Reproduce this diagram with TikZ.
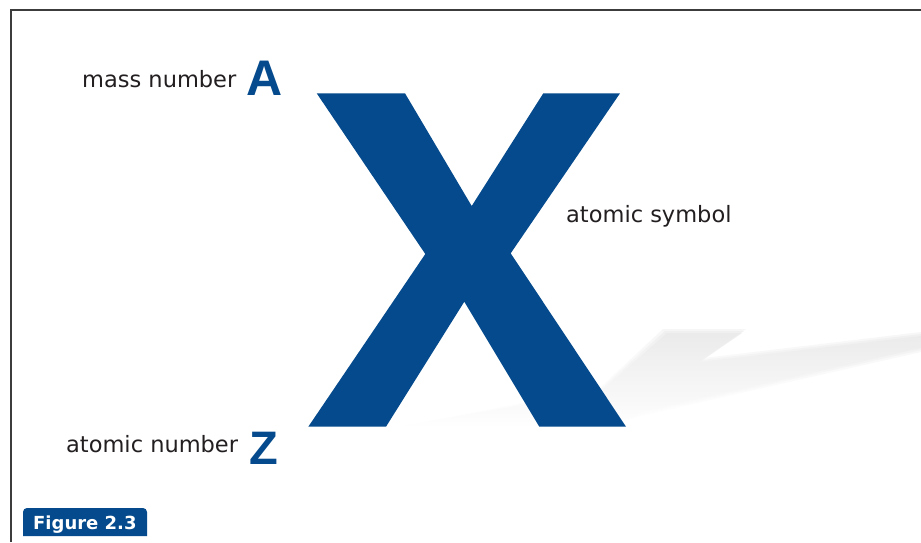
\documentclass[tikz,border=0pt]{standalone}
\usepackage{fontspec}
\setmainfont{Liberation Sans}
\newfontfamily\lblfont{DejaVu Sans}
\usetikzlibrary{fadings}
\definecolor{xblue}{RGB}{4,74,140}
\definecolor{frame}{RGB}{60,60,60}
\definecolor{txt}{RGB}{35,31,32}
\tikzset{
  lbl/.style={inner sep=0pt, text=txt, font=\lblfont\fontsize{22.5}{26}\selectfont, anchor=base west},
  big/.style={inner sep=0pt, text=xblue, font=\bfseries\fontsize{50}{56}\selectfont, anchor=base west},
}
\begin{document}
\begin{tikzpicture}[x=1pt,y=-1pt]
\useasboundingbox (0,0) rectangle (921,542);
\fill[white] (0,0) rectangle (921,542);
% frame
\draw[frame, line width=1.2pt] (11,542) -- (11,10) -- (921,10);
% shadow (soft, layered)
\foreach \d/\o in {4/0.35,2/0.45,0/0.6}{
\shade[left color=gray!18, right color=white, shading angle=0, opacity=\o]
  (395,428) -- (600,{392-\d}) -- ({667-\d},{333-\d}) -- ({742+\d},{333-\d}) -- ({700+\d},{362-\d})
  -- (921,{336-\d}) -- (921,{348+\d}) -- (640,{412+\d}) -- (600,428) -- cycle;
}
% the X
\fill[xblue] (316.7,93.3) -- (405,93.3) -- (471.7,206) -- (543.3,93.3) -- (620,93.3)
  -- (510.7,253.3) -- (626,426.7) -- (539.3,426.7) -- (464.3,301.7) -- (386,426.7)
  -- (308.3,426.7) -- (425.3,254) -- cycle;
% labels
\node[lbl] (mass) at (82,87) {mass number};
\node[big] (A) at (246,95) {A};
\node[lbl] (sym) at (566,222) {atomic symbol};
\node[lbl] (atnum) at (66,452) {atomic number};
\node[big, font=\bfseries\fontsize{47}{52}\selectfont] (Z) at (249,464) {Z};
% figure tag
\fill[xblue, rounded corners=4pt] (23,536) -- (23,508) -- (147,508) [sharp corners] -- (147,536) -- cycle;
\node[inner sep=0pt, text=white, font=\lblfont\bfseries\fontsize{18}{22}\selectfont, anchor=base west] (fig) at (33,529) {Figure 2.3};
\end{tikzpicture}
\end{document}
